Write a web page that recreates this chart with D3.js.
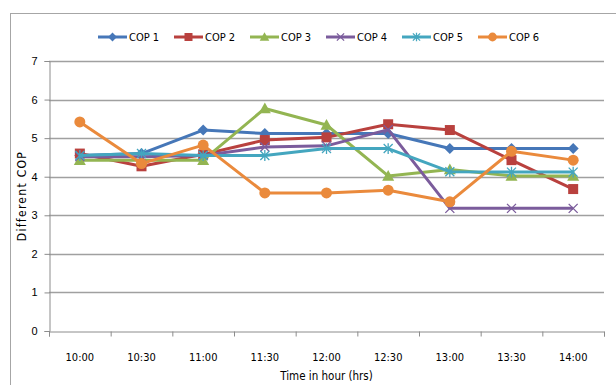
<!DOCTYPE html>
<html>
<head>
<meta charset="utf-8">
<script src="https://cdn.jsdelivr.net/npm/d3@7"></script>
<style>
  html, body { margin: 0; padding: 0; background: #fff; }
  svg { display: block; }
  text { font-family: "Liberation Sans Narrow", "DejaVu Sans Condensed", "Liberation Sans", sans-serif; fill: #000; }
</style>
</head>
<body>
<svg id="chart" width="616" height="385"></svg>
<script>
// Time slots on the x axis
const times = ["10:00", "10:30", "11:00", "11:30", "12:00", "12:30", "13:00", "13:30", "14:00"];
const yTicks = [0, 1, 2, 3, 4, 5, 6, 7];

// COP readings per series
const cop1 = [4.55, 4.60, 5.21, 5.12, 5.12, 5.12, 4.73, 4.73, 4.73];
const cop2 = [4.60, 4.27, 4.58, 4.95, 5.02, 5.36, 5.21, 4.43, 3.68];
const cop3 = [4.43, 4.43, 4.43, 5.77, 5.34, 4.02, 4.19, 4.02, 4.02];
const cop4 = [4.52, 4.52, 4.55, 4.77, 4.80, 5.22, 3.18, 3.18, 3.18];
const cop5 = [4.55, 4.60, 4.55, 4.55, 4.73, 4.73, 4.13, 4.12, 4.12];
const cop6 = [5.42, 4.34, 4.82, 3.58, 3.58, 3.65, 3.35, 4.66, 4.43];

const seriesNames = ["COP 1", "COP 2", "COP 3", "COP 4", "COP 5", "COP 6"];
const seriesValues = [cop1, cop2, cop3, cop4, cop5, cop6];
const seriesColors = ["#4677b8", "#b9413e", "#93b552", "#7b5c9c", "#44a6bf", "#ea8a3c"];
const seriesMarkers = ["diamond", "square", "triangle", "x", "star", "circle"];

const svg = d3.select("#chart");

// outer chart frame
svg.append("rect")
  .attr("x", 10.5).attr("y", 13.5)
  .attr("width", 640).attr("height", 400)
  .attr("fill", "none").attr("stroke", "#a6a6a6").attr("stroke-width", 1);

const plot = { left: 49, right: 604, top: 61, bottom: 331 };

const x = d3.scaleBand().domain(times).range([plot.left, plot.right]).padding(0);
const xc = d => x(d) + x.bandwidth() / 2;
const y = d3.scaleLinear().domain([0, 7]).range([plot.bottom, plot.top]);

// horizontal gridlines
svg.append("g")
  .selectAll("line")
  .data(yTicks.filter(t => t > 0))
  .join("line")
  .attr("x1", plot.left).attr("x2", plot.right)
  .attr("y1", d => Math.round(y(d)) + 0.5).attr("y2", d => Math.round(y(d)) + 0.5)
  .attr("stroke", "#a0a0a0").attr("stroke-width", 1.3);

// y axis
const yAxis = svg.append("g")
  .attr("transform", `translate(${plot.left + 0.5},0)`)
  .call(d3.axisLeft(y).tickValues(yTicks).tickSize(5).tickPadding(7).tickFormat(d3.format("d")));
yAxis.select(".domain").attr("stroke", "#8c8c8c");
yAxis.selectAll(".tick line").attr("stroke", "#8c8c8c");
yAxis.selectAll(".tick text").attr("font-size", 11).style("font-family", "'Liberation Sans Narrow', sans-serif");

// x axis: ticks sit on the band boundaries, labels at the band centres
const xEdge = d3.scaleLinear().domain([0, times.length]).range([plot.left, plot.right]);
const xAxis = svg.append("g")
  .attr("transform", `translate(0,${Math.round(plot.bottom) + 0.5})`)
  .call(d3.axisBottom(xEdge).tickValues(d3.range(times.length + 1)).tickSize(5).tickFormat(""));
xAxis.select(".domain").attr("stroke", "#8c8c8c");
xAxis.selectAll(".tick line").attr("stroke", "#8c8c8c");

svg.append("g")
  .selectAll("text")
  .data(times)
  .join("text")
  .attr("x", d => xc(d)).attr("y", 361)
  .attr("text-anchor", "middle").attr("font-size", 11)
  .text(d => d);

// axis titles
svg.append("text")
  .attr("x", xc("12:00")).attr("y", 380)
  .attr("text-anchor", "middle").attr("font-size", 11.5)
  .text("Time in hour (hrs)");

svg.append("text")
  .attr("transform", "translate(26,196) rotate(-90)")
  .attr("text-anchor", "middle").attr("font-size", 12)
  .attr("letter-spacing", 1.3)
  .text("Different COP");

// marker drawing
function drawMarker(g, type, color, cx, cy, scale) {
  const s = scale || 1;
  if (type === "diamond") {
    const r = 5.5 * s;
    g.append("path").attr("d", `M${cx},${cy - r}L${cx + r},${cy}L${cx},${cy + r}L${cx - r},${cy}Z`).attr("fill", color);
  } else if (type === "square") {
    const r = 5 * s;
    g.append("rect").attr("x", cx - r).attr("y", cy - r).attr("width", 2 * r).attr("height", 2 * r).attr("fill", color);
  } else if (type === "triangle") {
    const r = 6 * s;
    g.append("path").attr("d", `M${cx},${cy - r}L${cx + r},${cy + r * 0.8}L${cx - r},${cy + r * 0.8}Z`).attr("fill", color);
  } else if (type === "x") {
    const r = 4.5 * s;
    g.append("path").attr("d", `M${cx - r},${cy - r}L${cx + r},${cy + r}M${cx - r},${cy + r}L${cx + r},${cy - r}`)
      .attr("stroke", color).attr("stroke-width", 1.3).attr("fill", "none");
  } else if (type === "star") {
    const r = 4.5 * s;
    g.append("path").attr("d", `M${cx - r},${cy - r}L${cx + r},${cy + r}M${cx - r},${cy + r}L${cx + r},${cy - r}M${cx},${cy - r * 1.2}L${cx},${cy + r * 1.2}`)
      .attr("stroke", color).attr("stroke-width", 1.3).attr("fill", "none");
  } else if (type === "circle") {
    g.append("circle").attr("cx", cx).attr("cy", cy).attr("r", 5.5 * s).attr("fill", color);
  }
}

const line = d3.line().x((d, i) => xc(times[i])).y(d => y(d));

seriesValues.forEach((vals, si) => {
  const g = svg.append("g");
  g.append("path")
    .datum(vals)
    .attr("d", line)
    .attr("fill", "none")
    .attr("stroke", seriesColors[si])
    .attr("stroke-width", 3)
    .attr("stroke-linejoin", "round");
  vals.forEach((v, i) => drawMarker(g, seriesMarkers[si], seriesColors[si], xc(times[i]), y(v)));
});

// legend
const legendX = [98, 174, 250, 326, 402, 478];
const legend = svg.append("g");
seriesNames.forEach((name, i) => {
  const g = legend.append("g");
  const lx = legendX[i];
  g.append("line").attr("x1", lx).attr("x2", lx + 29).attr("y1", 37).attr("y2", 37)
    .attr("stroke", seriesColors[i]).attr("stroke-width", 3);
  drawMarker(g, seriesMarkers[i], seriesColors[i], lx + 14.5, 37, 0.8);
  g.append("text").attr("x", lx + 31).attr("y", 41).attr("font-size", 11).text(name);
});
</script>
</body>
</html>
